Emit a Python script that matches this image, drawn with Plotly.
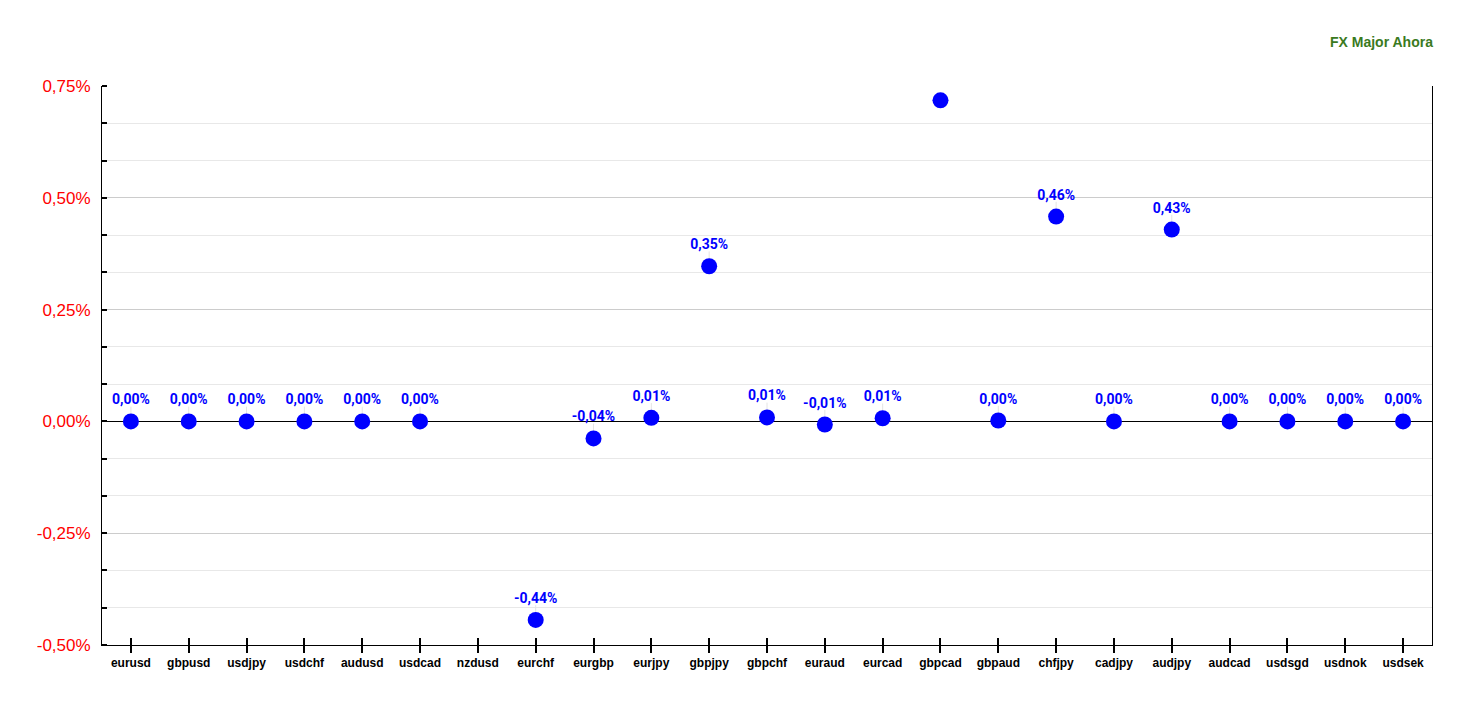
import plotly.graph_objects as go

pairs = ["eurusd", "gbpusd", "usdjpy", "usdchf", "audusd", "usdcad", "nzdusd", "eurchf",
         "eurgbp", "eurjpy", "gbpjpy", "gbpchf", "euraud", "eurcad", "gbpcad", "gbpaud",
         "chfjpy", "cadjpy", "audjpy", "audcad", "usdsgd", "usdnok", "usdsek"]
changes = [0.0, 0.0, 0.0, 0.0, 0.0, 0.0, None, -0.444,
           -0.038, 0.008, 0.347, 0.009, -0.007, 0.007, 0.718, 0.002,
           0.458, 0.0, 0.429, 0.0, 0.0, 0.0, 0.0]
y_ticks = [0.75, 0.5, 0.25, 0.0, -0.25, -0.5]
title_text = "FX Major Ahora"
y_range = [-0.5, 0.75]

def fmt(v):
    if v is None:
        return ""
    s = f"{v:.2f}".replace(".", ",")
    if s == "-0,00":
        s = "0,00"
    return s + "%"

# labels that would fall above the plot area are clipped in the original
labels = [fmt(v) if (v is not None and v + 0.06 < y_range[1]) else "" for v in changes]
y_ticktext = [fmt(v) for v in y_ticks]

fig = go.Figure()
# faint leader lines from label to marker
fig.add_trace(go.Scatter(
    x=pairs, y=changes, mode="markers",
    marker=dict(size=1, color="rgba(0,0,0,0)"),
    error_y=dict(type="data", symmetric=False,
                 array=[0.033 if l else 0 for l in labels],
                 arrayminus=[0] * len(changes), color="#e4e4e4", thickness=1, width=0),
    hoverinfo="skip", showlegend=False, cliponaxis=True,
))
fig.add_trace(go.Scatter(
    x=pairs, y=changes, mode="markers",
    marker=dict(size=16, color="#0000ff"),
    cliponaxis=True, showlegend=False,
))
fig.add_trace(go.Scatter(
    x=pairs, y=changes, mode="markers+text",
    text=labels, textposition="top center",
    textfont=dict(family="Roboto, Arial", size=14, color="#0000ff", weight="bold"),
    marker=dict(size=20, color="rgba(0,0,0,0)"),
    cliponaxis=True, showlegend=False, hoverinfo="skip",
))
# secondary axis for ticks crossing the x axis line
fig.add_trace(go.Scatter(x=pairs, y=[None] * len(pairs), xaxis="x2", showlegend=False, hoverinfo="skip"))
fig.add_trace(go.Scatter(x=[None], y=[None], yaxis="y2", showlegend=False, hoverinfo="skip"))

fig.update_layout(
    width=1468, height=707,
    margin=dict(l=94, r=44, t=78, b=70),
    plot_bgcolor="white", paper_bgcolor="white",
    font=dict(family="Liberation Sans, Arial"),
    xaxis=dict(
        type="category", range=[-0.5, len(pairs) - 0.5],
        showgrid=False, showline=True, linecolor="black", linewidth=1,
        ticks="outside", ticklen=7, tickcolor="black", tickwidth=2,
        tickfont=dict(family="Liberation Sans, Arial", size=12, color="black", weight="bold"),
        zeroline=False, mirror=False,
    ),
    xaxis2=dict(
        type="category", range=[-0.5, len(pairs) - 0.5], overlaying="x",
        anchor="y", side="bottom",
        showgrid=False, showline=False, showticklabels=False,
        ticks="inside", ticklen=7, tickcolor="black", tickwidth=2,
    ),
    yaxis=dict(
        range=y_range, tickvals=y_ticks, ticktext=y_ticktext,
        tickfont=dict(family="Liberation Sans, Arial", size=17, color="#ff0000"),
        showgrid=True, gridcolor="#cccccc", gridwidth=1,
        showline=True, linecolor="black", linewidth=1, mirror=False,
        zeroline=True, zerolinecolor="black", zerolinewidth=1,
        ticks="", ticklabelstandoff=7,
        minor=dict(dtick=0.25 / 3, tick0=0, showgrid=True, gridcolor="#e8e8e8",
                   ticks="inside", ticklen=5, tickcolor="black", tickwidth=2),
    ),
    yaxis2=dict(overlaying="y", side="right", showline=True, linecolor="black",
                showticklabels=False, showgrid=False, range=y_range, zeroline=False),
)

fig.add_annotation(
    text=title_text, xref="paper", yref="paper", x=1, y=1, xanchor="right", yanchor="bottom",
    yshift=34, xshift=3, showarrow=False,
    font=dict(family="Liberation Sans, Arial", size=14, color="#3a7a1e", weight="bold"),
)

fig.write_html("out.html")
